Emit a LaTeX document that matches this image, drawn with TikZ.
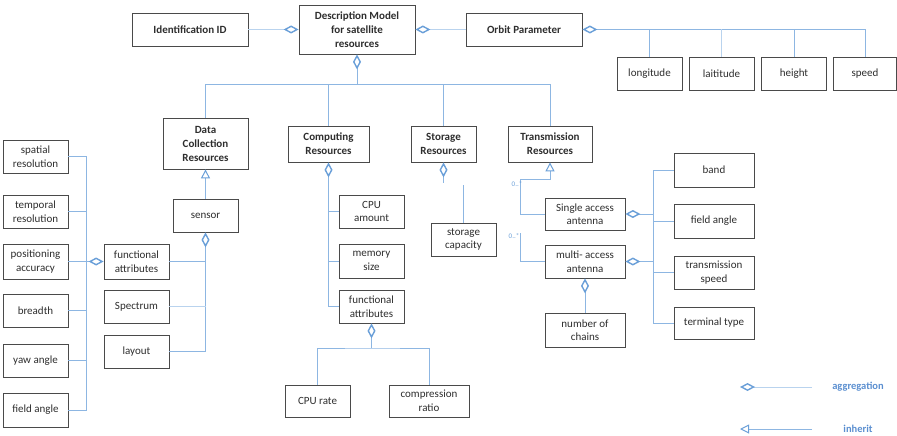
\documentclass[tikz,border=0pt]{standalone}
\usepackage{fontspec}
\setmainfont{Carlito}
\usetikzlibrary{arrows.meta}
\definecolor{boxline}{HTML}{4A4A4A}
\definecolor{boxtext}{HTML}{2E2E2E}
\definecolor{linkblue}{HTML}{8DB6E2}
\definecolor{paleblue}{HTML}{B9D3EE}
\definecolor{tipblue}{HTML}{6A9FD8}
\definecolor{legendblue}{HTML}{5B8FD0}
\tikzset{
  box/.style={draw=boxline, line width=0.8pt, fill=white, align=center,
    inner sep=1pt, text=boxtext, font=\fontsize{11}{13.5}\selectfont},
  headbox/.style={box, font=\fontsize{11}{14}\selectfont\bfseries},
  link/.style={draw=linkblue, line width=1pt},
  palelink/.style={draw=paleblue, line width=1pt},
  agg/.tip={Diamond[open, length=15pt, width=8pt, line width=1.4pt, color=tipblue]},
  inh/.tip={Triangle[open, length=9pt, width=9pt, line width=1pt, color=tipblue]},
  mult/.style={text=tipblue, font=\fontsize{7}{8}\selectfont, inner sep=0pt},
  legendtext/.style={text=legendblue, font=\fontsize{10.5}{12}\selectfont\bfseries}
}
\begin{document}
\begin{tikzpicture}[x=1pt, y=-1pt]
\useasboundingbox (0,0) rectangle (897,436);

% top row
\node[headbox, minimum width=116pt, minimum height=33pt] (ident) at (190,29.5) {Identification ID};
\node[headbox, minimum width=116pt, minimum height=49pt] (desc) at (357,29.5) {Description Model\\for satellite\\resources};
\node[headbox, minimum width=116pt, minimum height=33pt] (orbit) at (524,29.5) {Orbit Parameter};

% orbit parameters
\node[box, minimum width=65pt, minimum height=33pt] (lon) at (649.5,73.5) {longitude};
\node[box, minimum width=65pt, minimum height=33pt] (lat) at (721.5,73.5) {laititude};
\node[box, minimum width=65pt, minimum height=33pt] (hgt) at (794,73.5) {height};
\node[box, minimum width=63pt, minimum height=33pt] (spd) at (865,73.5) {speed};

% resource categories
\node[headbox, minimum width=85pt, minimum height=51pt] (dc) at (205.5,143.5) {Data\\Collection\\Resources};
\node[headbox, minimum width=81pt, minimum height=36pt] (comp) at (328.5,144) {Computing\\Resources};
\node[headbox, minimum width=65pt, minimum height=36pt] (stor) at (443.5,144) {Storage\\Resources};
\node[headbox, minimum width=84pt, minimum height=36pt] (trans) at (550,144) {Transmission\\Resources};

% data collection
\node[box, minimum width=65pt, minimum height=33pt] (sensor) at (205.5,215.5) {sensor};
\node[box, minimum width=65pt, minimum height=35pt] (fa1) at (136.5,261.5) {functional\\attributes};
\node[box, minimum width=65pt, minimum height=33pt] (spec) at (136.5,306.5) {Spectrum};
\node[box, minimum width=65pt, minimum height=33pt] (lay) at (136.5,351.5) {layout};

\node[box, minimum width=65pt, minimum height=33pt] (sr) at (35.5,156.5) {spatial\\resolution};
\node[box, minimum width=65pt, minimum height=33pt] (tr) at (35.5,211.5) {temporal\\resolution};
\node[box, minimum width=65pt, minimum height=35pt] (pa) at (35.5,261.5) {positioning\\accuracy};
\node[box, minimum width=65pt, minimum height=33pt] (br) at (35.5,310.5) {breadth};
\node[box, minimum width=65pt, minimum height=33pt] (ya) at (35.5,360.5) {yaw angle};
\node[box, minimum width=65pt, minimum height=34pt] (fan) at (35.5,410) {field angle};

% computing
\node[box, minimum width=65pt, minimum height=33pt] (cpu) at (371.5,211.5) {CPU\\amount};
\node[box, minimum width=65pt, minimum height=34pt] (mem) at (371.5,261) {memory\\size};
\node[box, minimum width=65pt, minimum height=33pt] (fa2) at (371.5,306.5) {functional\\attributes};
\node[box, minimum width=65pt, minimum height=32pt] (rate) at (317.5,401) {CPU rate};
\node[box, minimum width=80pt, minimum height=32pt] (ratio) at (429,401) {compression\\ratio};

% storage
\node[box, minimum width=65pt, minimum height=33pt] (scap) at (463.5,239.5) {storage\\capacity};

% transmission
\node[box, minimum width=80pt, minimum height=32pt] (single) at (585,214) {Single access\\antenna};
\node[box, minimum width=80pt, minimum height=33pt] (multi) at (585,261.5) {multi- access\\antenna};
\node[box, minimum width=80pt, minimum height=34pt] (chains) at (585,330) {number of\\chains};
\node[box, minimum width=80pt, minimum height=34pt] (band) at (714,170) {band};
\node[box, minimum width=80pt, minimum height=34pt] (fang) at (714,221) {field angle};
\node[box, minimum width=80pt, minimum height=33pt] (tspd) at (714,272.5) {transmission\\speed};
\node[box, minimum width=80pt, minimum height=32pt] (term) at (714,323) {terminal type};

% junction points
\coordinate (bus) at (357,85);
\coordinate (lbus) at (86,0);
\coordinate (fajoin) at (371.5,348);
\coordinate (tjoin) at (520,179);
\coordinate (mjoin) at (520,233);
\coordinate (rbus) at (653,0);

% top connections
\draw[palelink, -agg] (ident) -- (desc);
\draw[palelink, -agg] (orbit) -- (desc);
\draw[link, agg-] (orbit.east) -- (spd.north |- orbit.east) -- (spd.north);
\draw[link] (lon.north) -- (lon.north |- orbit.east);
\draw[palelink] (lat.north) -- (lat.north |- orbit.east);
\draw[link] (hgt.north) -- (hgt.north |- orbit.east);

% resource bus
\draw[link, -agg] (bus) -- (desc.south);
\draw[link] (dc.north) -- (dc.north |- bus) -- (trans.north |- bus) -- (trans.north);
\draw[link] (comp.north) -- (comp.north |- bus);
\draw[link] (stor.north) -- (stor.north |- bus);

% data collection
\draw[link, -inh] (sensor) -- (dc);
\draw[link, -agg] (lay.east) -| (sensor.south);
\draw[link] (fa1.east) -- (fa1.east -| sensor.south);
\draw[palelink] (spec.east) -- (spec.east -| sensor.south);
\draw[link] (sr.east) -- (sr.east -| lbus) -- (fan.east -| lbus) -- (fan.east);
\draw[link] (tr.east) -- (tr.east -| lbus);
\draw[link] (pa.east) -- (pa.east -| lbus);
\draw[link] (br.east) -- (br.east -| lbus);
\draw[link] (ya.east) -- (ya.east -| lbus);
\draw[link, -agg] (pa.east -| lbus) -- (fa1.west);

% computing
\draw[link, agg-] (comp.south) |- (fa2.west);
\draw[link] (cpu.west) -- (cpu.west -| comp.south);
\draw[link] (mem.west) -- (mem.west -| comp.south);
\draw[link] (rate.north) |- (fajoin) -| (ratio.north);
\draw[link, -agg] (fajoin) -- (fa2.south);

% storage
\draw[link, agg-] (stor.south) -- ++(0,21);
\draw[link] (scap.north) -- ++(0,-38);

% transmission
\draw[link, -inh] (single.west) -| (tjoin) -| (trans.south);
\draw[link] (multi.west) -| (mjoin);
\node[mult] (m1) at (517,184) {0..*};
\node[mult] (m2) at (514,236) {0..*};
\draw[link] (band.west) -- (band.west -| rbus) -- (term.west -| rbus) -- (term.west);
\draw[link] (fang.west) -- (fang.west -| rbus);
\draw[link] (tspd.west) -- (tspd.west -| rbus);
\draw[link, agg-] (single.east) -- (single.east -| rbus);
\draw[link, agg-] (multi.east) -- (multi.east -| rbus);
\draw[link, -agg] (chains) -- (multi);

% legend
\coordinate (la1) at (812,387);
\coordinate (la2) at (740,387);
\coordinate (li1) at (812,429);
\coordinate (li2) at (740,429);
\draw[palelink, -agg] (la1) -- (la2);
\draw[link, -inh] (li1) -- (li2);
\node[legendtext] (lagg) at (858,387) {aggregation};
\node[legendtext] (linh) at (858,429) {inherit};
\end{tikzpicture}
\end{document}
